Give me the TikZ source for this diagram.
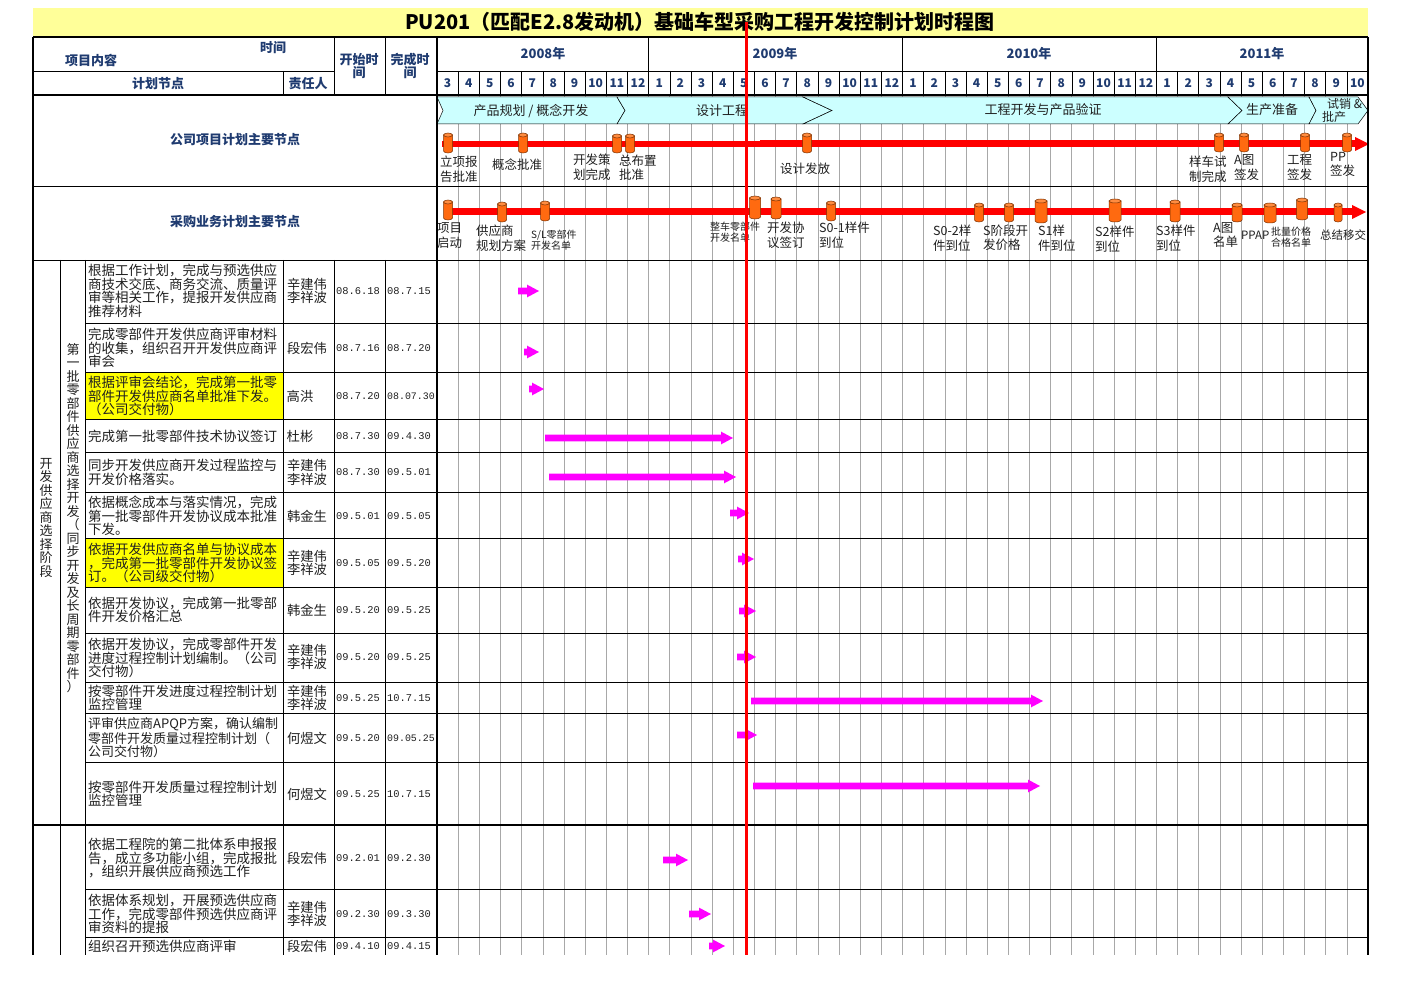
\documentclass[tikz,border=0pt]{standalone}
\usepackage{fontspec}
\setmainfont{Noto Sans CJK SC}
\newfontfamily\datefont{Liberation Mono}
\definecolor{hdrblue}{HTML}{1F3B70}
\definecolor{titlebg}{HTML}{FFFF99}
\definecolor{banner}{HTML}{CCFFFF}
\definecolor{cylfill}{HTML}{FF6A10}
\definecolor{cyltop}{HTML}{FF8C40}
\definecolor{cyledge}{HTML}{7A3000}
\definecolor{gridgray}{HTML}{A8A8A8}
\definecolor{hl}{HTML}{FFFF00}
\definecolor{bar}{HTML}{FF00FF}
\definecolor{mstxt}{HTML}{202020}
\newcommand\garr[3]{%
  \fill[bar] (#1,{#3-3.3}) -- ({#2-12},{#3-3.3}) -- ({#2-12},{#3-6.4}) -- (#2,#3) -- ({#2-12},{#3+6.4}) -- ({#2-12},{#3+3.3}) -- (#1,{#3+3.3}) -- cycle;}
\newcommand\mscyl[4]{%
  \filldraw[fill=cylfill, draw=cyledge, line width=0.5pt] ({#1-#3/2},{#2+2}) -- ({#1-#3/2},{#2+#4-2}) arc[start angle=180, end angle=360, x radius=#3/2*1pt, y radius=2pt] -- ({#1+#3/2},{#2+2}) -- cycle;
  \filldraw[fill=cyltop, draw=cyledge, line width=0.5pt] (#1,{#2+2}) ellipse[x radius=#3/2*1pt, y radius=2pt];}
\begin{document}
\begin{tikzpicture}[x=1pt,y=-1pt,
  txt/.style={inner sep=0pt, font=\fontsize{13.5}{13.5}\selectfont, align=left, anchor=west, text=mstxt},
  person/.style={inner sep=0pt, font=\fontsize{13.3}{13.8}\selectfont, align=center, text=mstxt},
  dt/.style={inner sep=0pt, font=\datefont\fontsize{10.4}{10.4}\selectfont, anchor=west, text=mstxt},
  hdr/.style={inner sep=0pt, font=\bfseries\fontsize{13}{13}\selectfont, text=hdrblue, align=center},
  mon/.style={inner sep=0pt, font=\bfseries\fontsize{12}{12}\selectfont, text=hdrblue},
  ms/.style={inner sep=0pt, font=\fontsize{12.5}{14.5}\selectfont, align=left, anchor=west, text=mstxt},
  mss/.style={ms, font=\fontsize{10}{11}\selectfont},
  bn/.style={inner sep=0pt, font=\fontsize{13}{14}\selectfont, text=mstxt, align=left},
  vtxt/.style={inner sep=0pt, font=\fontsize{13}{13.5}\selectfont, align=center, text=mstxt},
  chev/.style={fill=banner, draw=black, line width=0.5pt},
  hline/.style={black, line width=0.8pt},
  thick line/.style={black, line width=1.6pt},
  gline/.style={gridgray, line width=0.6pt}
]
\useasboundingbox (0,0) rectangle (1403,992);
\fill[white] (0,0) rectangle (1403,992);
% title
\fill[titlebg] (33,8) rectangle (1368,36);
\node[inner sep=0pt, font=\bfseries\fontsize{20}{20}\selectfont] (title) at (700,22) {PU201（匹配E2.8发动机）基础车型采购工程开发控制计划时程图};
% highlighted cells
\fill[hl] (85,372) rectangle (283,419);
\fill[hl] (85,538) rectangle (283,587);
% grid lines (body)
\foreach \i in {1,...,43} \draw[gline] ({437+\i*21.159},95) -- ({437+\i*21.159},955);
% header month separators
\foreach \i in {1,...,43} \draw[black, line width=0.5pt] ({437+\i*21.159},71) -- ({437+\i*21.159},95);
\foreach \i in {10,22,34} \draw[black, line width=0.6pt] ({437+\i*21.159},37) -- ({437+\i*21.159},71);
% header month labels
\foreach \m [count=\k from 0] in {3,4,5,6,7,8,9,10,11,12,1,2,3,4,5,6,7,8,9,10,11,12,1,2,3,4,5,6,7,8,9,10,11,12,1,2,3,4,5,6,7,8,9,10}
  \node[mon] at ({437+(\k+0.5)*21.159},83.5) {\m};
\node[hdr] (y8) at (543,54) {2008年};
\node[hdr] (y9) at (775,54) {2009年};
\node[hdr] (y10) at (1029,54) {2010年};
\node[hdr] (y11) at (1262,54) {2011年};
% header left
\node[hdr] (h1) at (273,48) {时间};
\node[hdr] (h2) at (91,61) {项目内容};
\node[hdr] (h3) at (158,83.5) {计划节点};
\node[hdr] (h4) at (308,83.5) {责任人};
\node[hdr, font=\bfseries\fontsize{13}{13}\selectfont] (h5) at (359,66) {开始时\\间};
\node[hdr, font=\bfseries\fontsize{13}{13}\selectfont] (h6) at (410,66) {完成时\\间};
\node[hdr] (s1) at (235,140) {公司项目计划主要节点};
\node[hdr] (s2) at (235,222) {采购业务计划主要节点};
% chevrons
\draw[chev] (437,97) -- (617,97) -- (625,110.5) -- (617,124) -- (437,124) -- (443,110.5) -- cycle;
\draw[chev] (617,97) -- (803,97) -- (832,110.5) -- (803,124) -- (617,124) -- (625,110.5) -- cycle;
\draw[chev] (803,97) -- (1228,97) -- (1242,110.5) -- (1228,124) -- (803,124) -- (832,110.5) -- cycle;
\draw[chev] (1228,97) -- (1309,97) -- (1316,110.5) -- (1309,124) -- (1228,124) -- (1242,110.5) -- cycle;
\draw[chev] (1309,97) -- (1358,97) -- (1368,110.5) -- (1358,124) -- (1309,124) -- (1316,110.5) -- cycle;
\node[bn] (p1) at (531,111) {产品规划 / 概念开发};
\node[bn] (p2) at (722,111) {设计工程};
\node[bn] (p3) at (1043,110) {工程开发与产品验证};
\node[bn] (p4) at (1272,110) {生产准备};
\node[bn, font=\fontsize{12}{13}\selectfont] (p5) at (1342,110) {\hspace*{5pt}试销 \&\\批产};
% company milestone line
\draw[red, line width=5.5pt] (442,144) -- (762,144);
\draw[red, line width=7pt] (760,144) -- (1357,144);
\fill[red] (1355,137) -- (1369,144) -- (1355,151) -- cycle;
\mscyl{448}{133}{9}{20}
\mscyl{523}{133}{9}{20}
\mscyl{617}{134}{9}{19}
\mscyl{630}{134}{9}{19}
\mscyl{807}{133}{9}{20}
\mscyl{1219}{133}{9}{19}
\mscyl{1244}{133}{9}{19}
\mscyl{1305}{133}{9}{19}
\mscyl{1347}{133}{9}{19}
\node[ms] (c1) at (440,169.5) {立项报\\告批准};
\node[ms] (c2) at (492,165) {概念批准};
\node[ms] (c3) at (573,167.5) {开发策\\划完成};
\node[ms] (c4) at (619,167.5) {总布置\\批准};
\node[ms] (c5) at (780,169) {设计发放};
\node[ms] (c6) at (1189,169.5) {样车试\\制完成};
\node[ms] (c7) at (1234,167.5) {A图\\签发};
\node[ms] (c8) at (1287,167.5) {工程\\签发};
\node[ms] (c9) at (1330,164.5) {PP\\签发};
% procurement milestone line
\draw[red, line width=7pt] (447,212) -- (1354,212);
\fill[red] (1352,205) -- (1366,212) -- (1352,219) -- cycle;
\mscyl{448}{200}{9}{20}
\mscyl{502}{202}{9}{20}
\mscyl{545}{201}{9}{20}
\mscyl{755}{196}{11}{23}
\mscyl{776}{197}{10}{22}
\mscyl{831}{201}{9}{20}
\mscyl{979}{203}{9}{19}
\mscyl{1009}{203}{9}{19}
\mscyl{1041}{199}{12}{24}
\mscyl{1115}{199}{12}{23}
\mscyl{1175}{200}{10}{22}
\mscyl{1237}{203}{10}{19}
\mscyl{1270}{203}{12}{20}
\mscyl{1302}{198}{11}{22}
\mscyl{1338}{203}{8}{19}
\node[ms] (m1) at (437,235.5) {项目\\启动};
\node[ms] (m2) at (476,238) {供应商\\规划方案};
\node[mss] (m3) at (531,240) {S/L零部件\\开发名单};
\node[mss] (m4) at (710,232.5) {整车零部件\\开发名单};
\node[ms] (m5) at (767,235.5) {开发协\\议签订};
\node[ms] (m6) at (819,235) {S0-1样件\\到位};
\node[ms] (m7) at (933,238) {S0-2样\\件到位};
\node[ms] (m8) at (983,238) {S阶段开\\发价格};
\node[ms] (m9) at (1038,238) {S1样\\件到位};
\node[ms] (m10) at (1095,239) {S2样件\\到位};
\node[ms] (m11) at (1156,238) {S3样件\\到位};
\node[ms] (m12) at (1213,235) {A图\\名单};
\node[ms, font=\fontsize{11.5}{12}\selectfont] (m13) at (1241,235.5) {PPAP};
\node[mss] (m14) at (1271,237) {批量价格\\合格名单};
\node[ms, font=\fontsize{11.5}{12}\selectfont] (m15) at (1320,235.5) {总结移交};
% table lines
\draw[thick line] (33,37) -- (1368,37);
\draw[hline] (33,71) -- (334,71);
\draw[hline] (437,71) -- (1368,71);
\draw[black, line width=1.2pt] (33,95) -- (1368,95);
\draw[hline] (33,186) -- (1368,186);
\draw[hline] (33,260) -- (1368,260);
\draw[black, line width=1.1pt] (33,825) -- (1368,825);
\foreach \yy in {323,372,419,452,492,538,587,633,682,713,762,889,937}
  \draw[hline] (85,\yy) -- (1368,\yy);
\draw[thick line] (33,37) -- (33,955);
\draw[thick line] (1368,37) -- (1368,955);
\draw[black, line width=1.5pt] (437,37) -- (437,955);
\draw[hline] (334,37) -- (334,95);
\draw[hline] (385,37) -- (385,95);
\draw[hline] (283,71) -- (283,95);
\foreach \xx in {60,85,283,334,385} \draw[hline] (\xx,260) -- (\xx,955);
% vertical group labels
\node[vtxt] (g1) at (46,518) {开\\发\\供\\应\\商\\选\\择\\阶\\段};
\node[vtxt] (g2) at (73,518) {第\\一\\批\\零\\部\\件\\供\\应\\商\\选\\择\\开\\发\\（\\同\\步\\开\\发\\及\\长\\周\\期\\零\\部\\件\\）};
% task rows
\node[txt] (t1) at (88,291) {根据工作计划，完成与预选供应\\商技术交底、商务交流、质量评\\审等相关工作，提报开发供应商\\推荐材料};
\node[person] (r1) at (307,291) {辛建伟\\李祥波};
\node[dt] (s1d) at (336,291) {08.6.18};
\node[dt] (e1d) at (387,291) {08.7.15};
\node[txt] (t2) at (88,348) {完成零部件开发供应商评审材料\\的收集，组织召开开发供应商评\\审会};
\node[person] (r2) at (307,348) {段宏伟};
\node[dt] (s2d) at (336,348) {08.7.16};
\node[dt] (e2d) at (387,348) {08.7.20};
\node[txt] (t3) at (88,396) {根据评审会结论，完成第一批零\\部件开发供应商名单批准下发。\\（公司交付物）};
\node[person] (r3) at (300,396) {高洪};
\node[dt] (s3d) at (336,396) {08.7.20};
\node[dt, font=\datefont\fontsize{9.9}{10}\selectfont] (e3d) at (387,396) {08.07.30};
\node[txt] (t4) at (88,436) {完成第一批零部件技术协议签订};
\node[person] (r4) at (300,436) {杜彬};
\node[dt] (s4d) at (336,436) {08.7.30};
\node[dt] (e4d) at (387,436) {09.4.30};
\node[txt] (t5) at (88,472.5) {同步开发供应商开发过程监控与\\开发价格落实。};
\node[person] (r5) at (307,472.5) {辛建伟\\李祥波};
\node[dt] (s5d) at (336,472.5) {08.7.30};
\node[dt] (e5d) at (387,472.5) {09.5.01};
\node[txt] (t6) at (88,516) {依据概念成本与落实情况，完成\\第一批零部件开发协议成本批准\\下发。};
\node[person] (r6) at (307,516) {韩金生};
\node[dt] (s6d) at (336,516) {09.5.01};
\node[dt] (e6d) at (387,516) {09.5.05};
\node[txt] (t7) at (88,563) {依据开发供应商名单与协议成本\\，完成第一批零部件开发协议签\\订。（公司级交付物）};
\node[person] (r7) at (307,563) {辛建伟\\李祥波};
\node[dt] (s7d) at (336,563) {09.5.05};
\node[dt] (e7d) at (387,563) {09.5.20};
\node[txt] (t8) at (88,610) {依据开发协议，完成第一批零部\\件开发价格汇总};
\node[person] (r8) at (307,610) {韩金生};
\node[dt] (s8d) at (336,610) {09.5.20};
\node[dt] (e8d) at (387,610) {09.5.25};
\node[txt] (t9) at (88,658) {依据开发协议，完成零部件开发\\进度过程控制计划编制。（公司\\交付物）};
\node[person] (r9) at (307,657) {辛建伟\\李祥波};
\node[dt] (s9d) at (336,657) {09.5.20};
\node[dt] (e9d) at (387,657) {09.5.25};
\node[txt] (t10) at (88,698) {按零部件开发进度过程控制计划\\监控管理};
\node[person] (r10) at (307,698) {辛建伟\\李祥波};
\node[dt] (s10d) at (336,698) {09.5.25};
\node[dt] (e10d) at (387,698) {10.7.15};
\node[txt, font=\fontsize{13}{13.5}\selectfont] (t11) at (88,738) {评审供应商APQP方案，确认编制\\零部件开发质量过程控制计划（\\公司交付物）};
\node[person] (r11) at (307,738) {何煜文};
\node[dt] (s11d) at (336,738) {09.5.20};
\node[dt, font=\datefont\fontsize{9.9}{10}\selectfont] (e11d) at (387,738) {09.05.25};
\node[txt] (t12) at (88,794) {按零部件开发质量过程控制计划\\监控管理};
\node[person] (r12) at (307,794) {何煜文};
\node[dt] (s12d) at (336,794) {09.5.25};
\node[dt] (e12d) at (387,794) {10.7.15};
\node[txt] (t13) at (88,858) {依据工程院的第二批体系申报报\\告，成立多功能小组，完成报批\\，组织开展供应商预选工作};
\node[person] (r13) at (307,858) {段宏伟};
\node[dt] (s13d) at (336,858) {09.2.01};
\node[dt] (e13d) at (387,858) {09.2.30};
\node[txt] (t14) at (88,914) {依据体系规划，开展预选供应商\\工作，完成零部件预选供应商评\\审资料的提报};
\node[person] (r14) at (307,914) {辛建伟\\李祥波};
\node[dt] (s14d) at (336,914) {09.2.30};
\node[dt] (e14d) at (387,914) {09.3.30};
\node[txt] (t15) at (88,946) {组织召开预选供应商评审};
\node[person] (r15) at (307,946) {段宏伟};
\node[dt] (s15d) at (336,946) {09.4.10};
\node[dt] (e15d) at (387,946) {09.4.15};
% gantt bars
\garr{518}{539}{291}
\garr{524}{539}{352}
\garr{529}{544}{389}
\garr{545}{733}{438}
\garr{549}{736}{477}
\garr{730}{749}{513}
\garr{738}{754}{559}
\garr{739}{756}{611}
\garr{737}{756}{657}
\garr{751}{1043}{701}
\garr{737}{757}{735}
\garr{753}{1040}{786}
\garr{663}{688}{860}
\garr{689}{711}{914}
\garr{709}{725}{946}
% current date line
\draw[red, line width=3.6pt] (746.5,22) -- (746.5,955);
\end{tikzpicture}
\end{document}
